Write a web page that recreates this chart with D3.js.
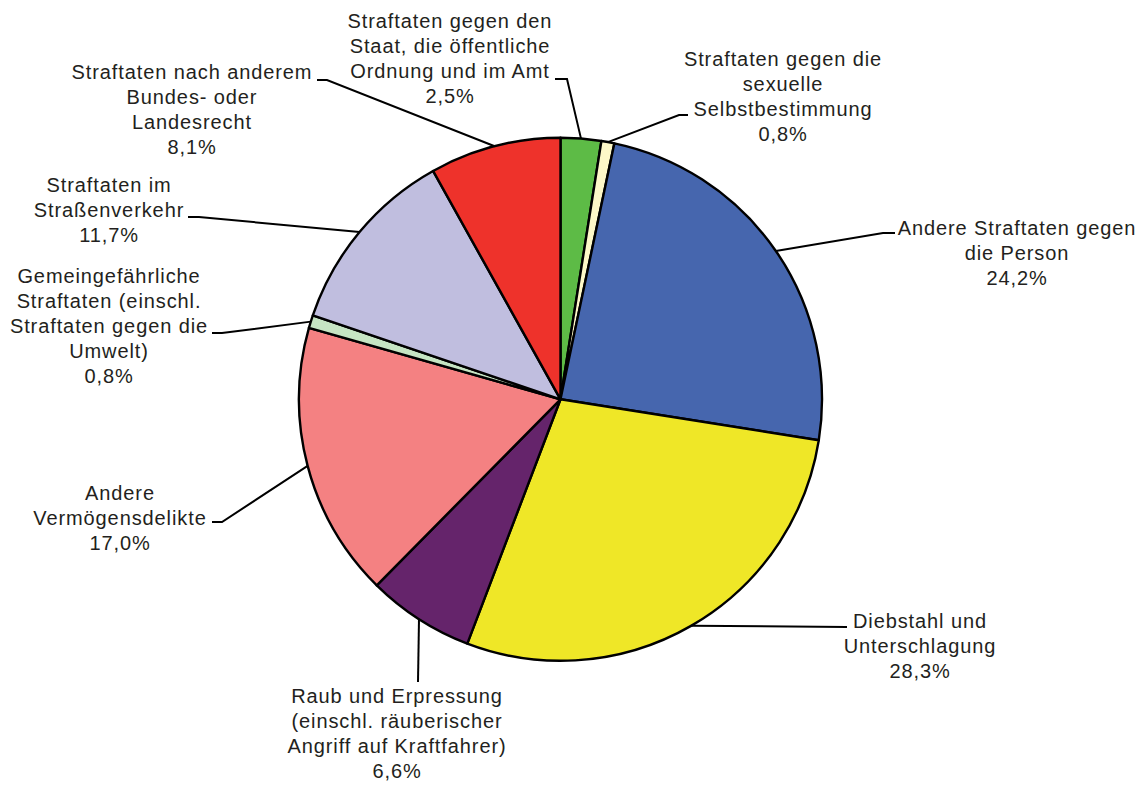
<!DOCTYPE html>
<html><head><meta charset="utf-8">
<script src="https://cdn.jsdelivr.net/npm/d3@7"></script>
<style>html,body{margin:0;padding:0;background:#fff;}svg{display:block;}</style>
</head><body>
<svg id="chart" width="1146" height="785"></svg>
<script>
// Data
const categories = [
  "Straftaten gegen den Staat, die öffentliche Ordnung und im Amt",
  "Straftaten gegen die sexuelle Selbstbestimmung",
  "Andere Straftaten gegen die Person",
  "Diebstahl und Unterschlagung",
  "Raub und Erpressung (einschl. räuberischer Angriff auf Kraftfahrer)",
  "Andere Vermögensdelikte",
  "Gemeingefährliche Straftaten (einschl. Straftaten gegen die Umwelt)",
  "Straftaten im Straßenverkehr",
  "Straftaten nach anderem Bundes- oder Landesrecht"
];
const values = [2.5, 0.8, 24.2, 28.3, 6.6, 17.0, 0.8, 11.7, 8.1];
const labelLines = [
  ["Straftaten gegen den","Staat, die öffentliche","Ordnung und im Amt"],
  ["Straftaten gegen die","sexuelle","Selbstbestimmung"],
  ["Andere Straftaten gegen","die Person"],
  ["Diebstahl und","Unterschlagung"],
  ["Raub und Erpressung","(einschl. räuberischer","Angriff auf Kraftfahrer)"],
  ["Andere","Vermögensdelikte"],
  ["Gemeingefährliche","Straftaten (einschl.","Straftaten gegen die","Umwelt)"],
  ["Straftaten im","Straßenverkehr"],
  ["Straftaten nach anderem","Bundes- oder","Landesrecht"]
];
const colors = ["#5DBB46","#FDF8C8","#4666AE","#EFE727","#65246B","#F48182","#C6E5C3","#C0BEDF","#EE322B"];

// Layout (label centres, first baselines, leader elbows)
const labelPos = [
  {x:450, y:28}, {x:783, y:66}, {x:1017, y:235}, {x:920, y:628},
  {x:397, y:703}, {x:120, y:500}, {x:109, y:283}, {x:109, y:192}, {x:192, y:79}
];
const elbows = [
  [[567,79],[555,79]],
  [[679,115],[688,115]],
  [[883,233],[895,233]],
  [[847,627]],
  [[418,682]],
  [[222,522],[212,522]],
  [[222,333],[212,333]],
  [[199,217],[188,217]],
  [[327,80],[317,80]]
];

const svg = d3.select("#chart");
const cx = 560.5, cy = 399.3, R = 261.5;
const fmt = v => d3.format(".1f")(v).replace(".", ",") + "%";

const pie = d3.pie().sort(null).value(d => d)(values);
const arc = d3.arc().innerRadius(0).outerRadius(R);

const g = svg.append("g").attr("transform", `translate(${cx},${cy})`);
g.selectAll("path").data(pie).join("path")
  .attr("d", arc)
  .attr("fill", (d,i) => colors[i])
  .attr("stroke", "#000")
  .attr("stroke-width", 2.4)
  .attr("stroke-linejoin", "round");

// leader lines
const line = d3.line();
pie.forEach((d,i) => {
  const a = (d.startAngle + d.endAngle) / 2;
  const p0 = [cx + R*Math.sin(a), cy - R*Math.cos(a)];
  svg.append("path")
    .attr("d", line([p0, ...elbows[i]]))
    .attr("fill", "none")
    .attr("stroke", "#000")
    .attr("stroke-width", 2);
});

// labels
const lh = 24.9;
labelLines.forEach((lines, i) => {
  const all = lines.concat([fmt(values[i])]);
  const t = svg.append("text")
    .attr("text-anchor", "middle")
    .attr("font-family", "Liberation Sans, Arial, sans-serif")
    .attr("font-size", 20)
    .attr("letter-spacing", 0.9)
    .attr("fill", "#231F20");
  all.forEach((s, j) => {
    t.append("tspan").attr("x", labelPos[i].x).attr("y", labelPos[i].y + j*lh).text(s);
  });
});
</script>
</body></html>
